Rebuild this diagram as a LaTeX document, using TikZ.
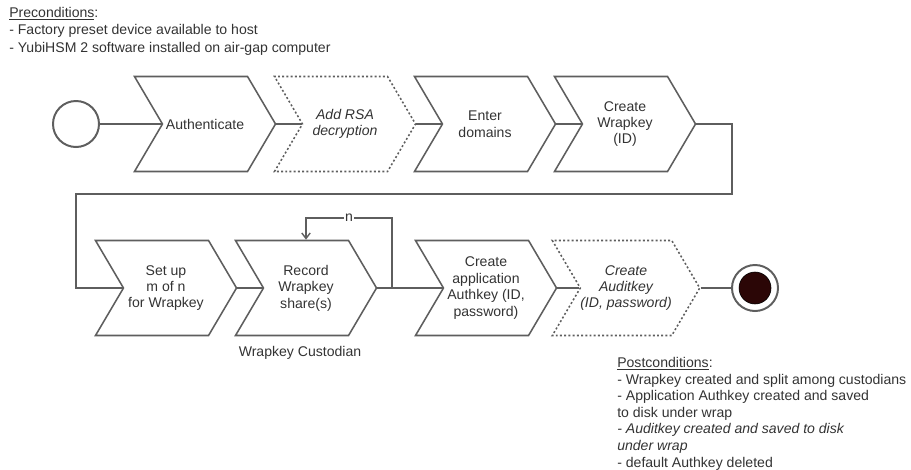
\documentclass[tikz,border=0pt]{standalone}
\usepackage{fontspec}
\setmainfont{Liberation Sans}
\usetikzlibrary{shapes.symbols, arrows.meta}

\definecolor{linegray}{HTML}{5E5E5E}
\definecolor{txtgray}{HTML}{333333}
\definecolor{endfill}{HTML}{2B0606}

\begin{document}
\begin{tikzpicture}
            [x=0.025cm, y=-0.025cm, >={Straight Barb[length=4pt, width=6pt]},
             stage/.style={shape=signal, signal from=west, signal to=east, signal pointer angle=119,
                           minimum width=3.525cm, minimum height=2.375cm, inner sep=0pt,
                           draw=linegray, line width=1.1pt, text=txtgray, align=center,
                           font=\fontsize{10}{11.7}\selectfont},
             optstage/.style={stage, dash pattern=on 1.4pt off 1.6pt,
                              font=\fontsize{10}{11.7}\selectfont\itshape},
             flow/.style={draw=linegray, line width=1pt},
             note/.style={anchor=north west, align=left, inner sep=0pt, text=txtgray,
                          font=\fontsize{10}{11.8}\selectfont}]
            \useasboundingbox (0,0) rectangle (911,469);

            \node[note, font=\fontsize{10}{12.3}\selectfont] (pre) at (9,7) {\underline{Preconditions}:\\- Factory preset device available to host\\- YubiHSM 2 software installed on air-gap computer};

            \node[shape=circle, draw=linegray, line width=1.4pt, minimum size=1.15cm] (start) at (76,124) {};
            \node[stage] (auth) at (205,124) {Authenticate};
            \node[optstage] (rsa) at (345,124) {Add RSA\\decryption};
            \node[stage] (domains) at (485,124) {Enter\\domains};
            \node[stage] (wrap) at (625,124) {Create\\Wrapkey\\(ID)};

            \node[stage] (setup) at (166,288) {Set up\\m of n\\for Wrapkey};
            \node[stage] (record) at (306,288) {Record\\Wrapkey\\share(s)};
            \node[stage] (app) at (486,288) {Create\\application\\Authkey (ID,\\password)};
            \node[optstage] (audit) at (626,288) {Create\\Auditkey\\(ID, password)};
            \node[shape=circle, draw=linegray, line width=1.4pt, minimum size=1.15cm] (finish) at (755,288) {};
            \node[shape=circle, draw=black, fill=endfill, minimum size=0.8cm] (finishdot) at (755,288) {};

            \node[text=txtgray, font=\fontsize{10}{11.7}\selectfont] (custodian) at (300,353) {Wrapkey Custodian};
            \node[note] (post) at (617,357) {\underline{Postconditions}:\\- Wrapkey created and split among custodians\\- Application Authkey created and saved\\to disk under wrap\\\textit{- Auditkey created and saved to disk}\\\textit{under wrap}\\- default Authkey deleted};

            \coordinate (bendR) at (732,194);
            \coordinate (bendL) at (76,194);
            \coordinate (split) at (392,288);
            \coordinate (looptop) at (392,218);

            \draw[flow] (start) -- (auth.west);
            \draw[flow] (auth.east) -- (rsa.west);
            \draw[flow] (rsa.east) -- (domains.west);
            \draw[flow] (domains.east) -- (wrap.west);
            \draw[flow] (wrap.east) -| (bendR) -- (bendL) |- (setup.west);
            \draw[flow] (setup.east) -- (record.west);
            \draw[flow] (record.east) -- (app.west);
            \draw[flow, ->] (split) -- (looptop) -| node[pos=0.25, fill=white, inner sep=0.6pt, text=txtgray, font=\fontsize{10}{11.7}\selectfont] {n} (record.north);
            \draw[flow] (app.east) -- (audit.west);
            \draw[flow] (audit.east) -- (finish);
        \end{tikzpicture}
\end{document}
